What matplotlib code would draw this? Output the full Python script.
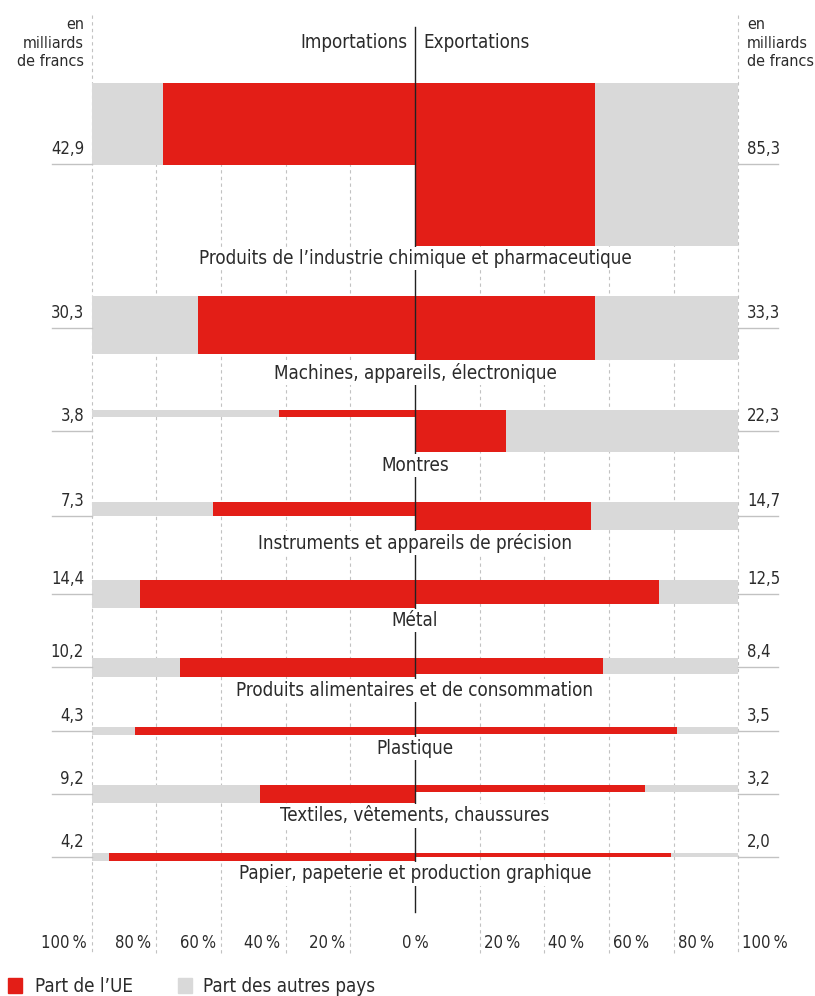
import matplotlib
matplotlib.use('Agg')
import matplotlib.pyplot as plt
from matplotlib.patches import Rectangle

categories = ['Produits de l\u2019industrie chimique et pharmaceutique',
              'Machines, appareils, électronique',
              'Montres',
              'Instruments et appareils de précision',
              'Métal',
              'Produits alimentaires et de consommation',
              'Plastique',
              'Textiles, vêtements, chaussures',
              'Papier, papeterie et production graphique']
# en milliards de francs
imp_total = [42.9, 30.3, 3.8, 7.3, 14.4, 10.2, 4.3, 9.2, 4.2]
exp_total = [85.3, 33.3, 22.3, 14.7, 12.5, 8.4, 3.5, 3.2, 2.0]
# part de l'UE en %
imp_ue = [78, 67, 42, 62.5, 85, 72.5, 86.5, 48, 94.5]
exp_ue = [55.5, 55.5, 28, 54.5, 75.5, 58, 81, 71, 79]
pct_ticks = [-100, -80, -60, -40, -20, 0, 20, 40, 60, 80, 100]

RED = '#e31e17'
GREY = '#d9d9d9'
LINE = '#c2c2c2'
TXT = '#2b2b2b'
plt.rcParams['font.family'] = ['DejaVu Sans']
plt.rcParams['font.stretch'] = 'condensed'

W, H = 815, 996
fig = plt.figure(figsize=(W / 100, H / 100), dpi=100)
ax = fig.add_axes([0, 0, 1, 1])
ax.axis('off')

XS = 3.235   # px per percent
YS = 1.91    # px per milliard
X0 = 415
Y0 = 83
ax.set_xlim(-X0 / XS, (W - X0) / XS)
ax.set_ylim((H - Y0) / YS, -Y0 / YS)

def px(p):
    return (p - X0) / XS

def py(p):
    return (p - Y0) / YS

gap = 50 / YS

# grid
for v in [20, 40, 60, 80]:
    for s in (-1, 1):
        ax.plot([s * v, s * v], [0, py(955)], ls=(0, (3, 3)), color=LINE, lw=0.8, zorder=0)
for s in (-1, 1):
    ax.plot([s * 100, s * 100], [py(15), py(955)], ls=(0, (3, 3)), color=LINE, lw=0.8, zorder=0)

top = 0
for i in range(len(categories)):
    ax.barh(top, -100, height=imp_total[i], left=0, align='edge', color=GREY, zorder=1)
    ax.barh(top, -imp_ue[i], height=imp_total[i], left=0, align='edge', color=RED, zorder=2)
    ax.barh(top, 100, height=exp_total[i], left=0, align='edge', color=GREY, zorder=1)
    ax.barh(top, exp_ue[i], height=exp_total[i], left=0, align='edge', color=RED, zorder=2)
    hmax = max(imp_total[i], exp_total[i])
    mid = top + hmax / 2
    ax.plot([px(52), -100], [mid, mid], color=LINE, lw=1, zorder=1)
    ax.plot([100, px(778)], [mid, mid], color=LINE, lw=1, zorder=1)
    ax.text(px(84), mid - 10 / YS, ('%.1f' % imp_total[i]).replace('.', ','),
            ha='right', va='baseline', fontsize=12, color=TXT)
    ax.text(px(747), mid - 10 / YS, ('%.1f' % exp_total[i]).replace('.', ','),
            ha='left', va='baseline', fontsize=12, color=TXT)
    ax.text(0, top + hmax + 13 / YS, categories[i], ha='center', va='center',
            fontsize=13.5, color=TXT, zorder=5,
            bbox=dict(fc='white', ec='none', pad=1.5))
    top = top + hmax + gap

# centre line
ax.plot([0, 0], [py(27), py(912)], color='#222222', lw=1, zorder=4)

ax.text(px(408), py(42), 'Importations', ha='right', va='center', fontsize=13.5, color=TXT)
ax.text(px(423), py(42), 'Exportations', ha='left', va='center', fontsize=13.5, color=TXT)
ax.text(px(84), py(43), 'en\nmilliards\nde francs', ha='right', va='center',
        fontsize=11.5, color=TXT, linespacing=1.3)
ax.text(px(747), py(43), 'en\nmilliards\nde francs', ha='left', va='center',
        fontsize=11.5, color=TXT, linespacing=1.3)

for v in pct_ticks:
    lab = '%d\u2009%%' % abs(v)
    if v < 0:
        ax.text(v - 5 / XS, py(943), lab, ha='right', va='center', fontsize=12, color=TXT)
    elif v > 0:
        ax.text(v + 4 / XS, py(943), lab, ha='left', va='center', fontsize=12, color=TXT)
    else:
        ax.text(0, py(943), lab, ha='center', va='center', fontsize=12, color=TXT)

# legend
ax.add_patch(Rectangle((px(8), py(978)), 14 / XS, 15 / YS, color=RED, clip_on=False))
ax.text(px(35), py(986), 'Part de l\u2019UE', ha='left', va='center', fontsize=13.5, color=TXT)
ax.add_patch(Rectangle((px(178), py(978)), 14 / XS, 15 / YS, color=GREY, clip_on=False))
ax.text(px(203), py(986), 'Part des autres pays', ha='left', va='center', fontsize=13.5, color=TXT)

plt.savefig('out.png', dpi=100)
